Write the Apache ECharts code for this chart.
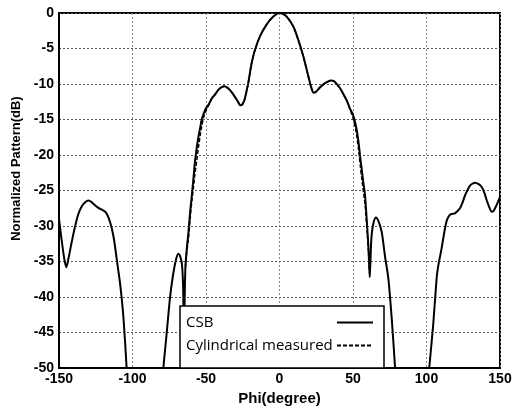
<!DOCTYPE html>
<html>
<head>
<meta charset="utf-8">
<script src="https://cdn.jsdelivr.net/npm/echarts@6/dist/echarts.min.js"></script>
<style>html,body{margin:0;padding:0;background:#fff;}#c{width:519px;height:411px;}</style>
</head>
<body>
<div id="c"></div>
<script>
// ---- data ----
var xTicks = [-150, -100, -50, 0, 50, 100, 150];
var yTicks = [-50, -45, -40, -35, -30, -25, -20, -15, -10, -5, 0];

var phiCSB = [-150, -148.5, -146.5, -145, -143.5, -141.5, -139, -137, -134.5, -132, -130, -128, -126.5, -123.5, -120, -118, -116, -114, -112.5, -110.5, -108.5, -106.5, -105, -104, -102, -92, -81, -79, -76.7, -74.5, -72.5, -70.5, -68.8, -67.5, -66.3, -65.5, -65, -64.5, -64, -63, -62, -60.8, -59.7, -58.5, -57.5, -56.3, -55.2, -54, -52.9, -50.5, -48, -46, -43.9, -41.5, -39.3, -37.5, -35.5, -33.5, -31, -28.5, -26.6, -25, -23.5, -22.3, -21.2, -20, -18.9, -16.7, -13.3, -8.7, -4.2, 0, 2, 4.9, 9.4, 12.8, 16.2, 19.6, 21.5, 23, 24, 25.3, 27.5, 29.8, 32.5, 35, 37, 38.9, 41.2, 43.4, 45.7, 48, 49.8, 52, 53.6, 55, 55.9, 57, 58.2, 59.7, 60.5, 61.4, 62.2, 62.7, 64, 65.6, 67.5, 69.5, 71, 71.8, 74, 76.3, 78.6, 80, 90, 100, 101.9, 104.6, 106.9, 108, 110.3, 112.6, 114, 116, 119.4, 121, 122.8, 124.5, 126.2, 129.6, 133, 135.5, 137.6, 139.5, 141, 142.8, 144.4, 145.5, 146.6, 148, 150];
var csb = [-29.0, -31.5, -34.5, -35.8, -34.5, -32.4, -30.0, -28.4, -27.2, -26.6, -26.4, -26.6, -26.9, -27.4, -27.8, -28.1, -29.0, -30.4, -32.0, -35.0, -38.0, -42.0, -46.5, -50.0, -56, -62, -56, -50, -45, -40.1, -37, -34.8, -33.9, -34.3, -35.5, -39, -47, -40, -35.8, -33, -31, -28, -25.8, -23.2, -20.9, -19, -17.5, -16.2, -15, -13.6, -12.8, -12.0, -11.5, -10.8, -10.45, -10.3, -10.5, -10.9, -11.6, -12.4, -13.0, -12.8, -12.0, -10.9, -9.8, -8.3, -7.0, -5.2, -3.3, -1.6, -0.5, 0, -0.1, -0.5, -1.9, -3.8, -6.1, -8.9, -10.4, -11.2, -11.2, -11.0, -10.5, -10.05, -9.7, -9.5, -9.6, -10.0, -10.6, -11.4, -12.3, -13.5, -14.2, -15.9, -17.9, -20.5, -21.9, -23.8, -25.7, -30.3, -33, -37.2, -33, -31.2, -29.5, -28.8, -29.4, -30.8, -33, -34.3, -37.3, -42.9, -49.9, -55, -62, -55, -49.9, -43.8, -37.3, -35.6, -33.1, -30.3, -29.1, -28.4, -28.2, -27.9, -27.5, -26.7, -25.7, -24.3, -23.9, -24.1, -24.5, -25.4, -26.4, -27.4, -28.0, -27.9, -27.5, -26.9, -25.9];

var phiMeas = [-64, -63, -62, -60.8, -59.7, -58.5, -57.5, -56.3, -55.2, -54, -52.9, -51.5, -50.5, -48, -46, -43.9, -41.5, -39.3, -37.5, -35.5, -33.5, -31, -28.5, -26.6, -25, -23.5, -22.3, -21.2, -20, -18.9, -16.7, -13.3, -8.7, -4.2, 0, 2, 4.9, 9.4, 12.8, 16.2, 19.6, 21.5, 23, 24, 25.3, 27.5, 29.8, 32.5, 35, 37, 38.9, 41.2, 43.4, 45.7, 48, 49.8, 52, 53.6, 55, 55.9, 57, 58.2, 59.7, 60.5, 61.4];
var meas = [-35.8, -33.5, -32, -29, -26.6, -24.5, -22.6, -20.8, -19.0, -17.3, -15.9, -14.6, -14.0, -12.9, -12.0, -11.5, -10.8, -10.45, -10.3, -10.5, -10.9, -11.6, -12.4, -13.0, -12.8, -12.0, -10.9, -9.8, -8.3, -7.0, -5.2, -3.3, -1.6, -0.5, 0, -0.1, -0.5, -1.9, -3.8, -6.1, -8.9, -10.4, -11.2, -11.2, -11.0, -10.5, -10.05, -9.7, -9.5, -9.6, -10.0, -10.6, -11.4, -12.3, -13.6, -14.6, -16.6, -18.9, -21.6, -23.2, -25, -27, -31, -33.5, -37.2];

var seriesNames = ['CSB', 'Cylindrical measured'];

function pairs(xs, ys) { return xs.map(function (x, i) { return [x, ys[i]]; }); }

var chart = echarts.init(document.getElementById('c'), null, { renderer: 'canvas' });
var tickFont = { fontFamily: 'Liberation Sans, Arial, sans-serif', fontWeight: 'bold', fontSize: 14, color: '#000' };
chart.setOption({
  animation: false,
  backgroundColor: '#fff',
  grid: { left: 59, right: 19, top: 13, bottom: 40, show: true, borderColor: '#000', borderWidth: 2, backgroundColor: 'transparent' },
  xAxis: {
    type: 'value', min: xTicks[0], max: xTicks[xTicks.length - 1], interval: 50,
    name: 'Phi(degree)', nameLocation: 'middle', nameGap: 20,
    nameTextStyle: { fontFamily: 'Liberation Sans, Arial, sans-serif', fontWeight: 'bold', fontSize: 15, color: '#000' },
    axisLine: { show: true, onZero: false, lineStyle: { color: '#000', width: 2 } },
    axisTick: { show: false },
    axisLabel: Object.assign({ margin: 4 }, tickFont),
    splitLine: { show: true, lineStyle: { color: '#888', type: [2, 2], width: 1 } }
  },
  yAxis: {
    type: 'value', min: yTicks[0], max: yTicks[yTicks.length - 1], interval: 5,
    name: 'Normalized Pattern(dB)', nameLocation: 'middle', nameGap: 36,
    nameTextStyle: { fontFamily: 'Liberation Sans, Arial, sans-serif', fontWeight: 'bold', fontSize: 13, color: '#000', padding: [0, 0, 0, 44] },
    axisLine: { show: true, onZero: false, lineStyle: { color: '#000', width: 2 } },
    axisTick: { show: false },
    axisLabel: Object.assign({ margin: 5 }, tickFont),
    splitLine: { show: true, lineStyle: { color: '#555', type: [2, 2], width: 1 } }
  },
  legend: {
    data: seriesNames,
    orient: 'vertical', left: 180, top: 306,
    align: 'right',
    padding: [9, 10, 15, 6],
    itemGap: 8, itemWidth: 36, itemHeight: 14,
    backgroundColor: '#fff', borderColor: '#000', borderWidth: 1.5, borderRadius: 0,
    itemStyle: { opacity: 0 },
    formatter: function (n) { return '{t|' + n + '}'; },
    textStyle: {
      color: '#000', fontFamily: 'Open Sans, sans-serif', fontSize: 15,
      rich: { t: { width: 146, align: 'left', lineHeight: 16, fontFamily: 'Open Sans, sans-serif', fontSize: 15, color: '#000' } }
    },
    z: 10
  },
  series: [
    {
      name: seriesNames[0], type: 'line', data: pairs(phiCSB, csb),
      symbol: 'none', smooth: 0.25, clip: true, z: 3,
      lineStyle: { color: '#000', width: 2 }, itemStyle: { color: '#000' }
    },
    {
      name: seriesNames[1], type: 'line', data: pairs(phiMeas, meas),
      symbol: 'none', smooth: 0.25, clip: true, z: 2,
      lineStyle: { color: '#000', width: 1.5, type: [4, 2] }, itemStyle: { color: '#000' }
    }
  ]
});
</script>
</body>
</html>
